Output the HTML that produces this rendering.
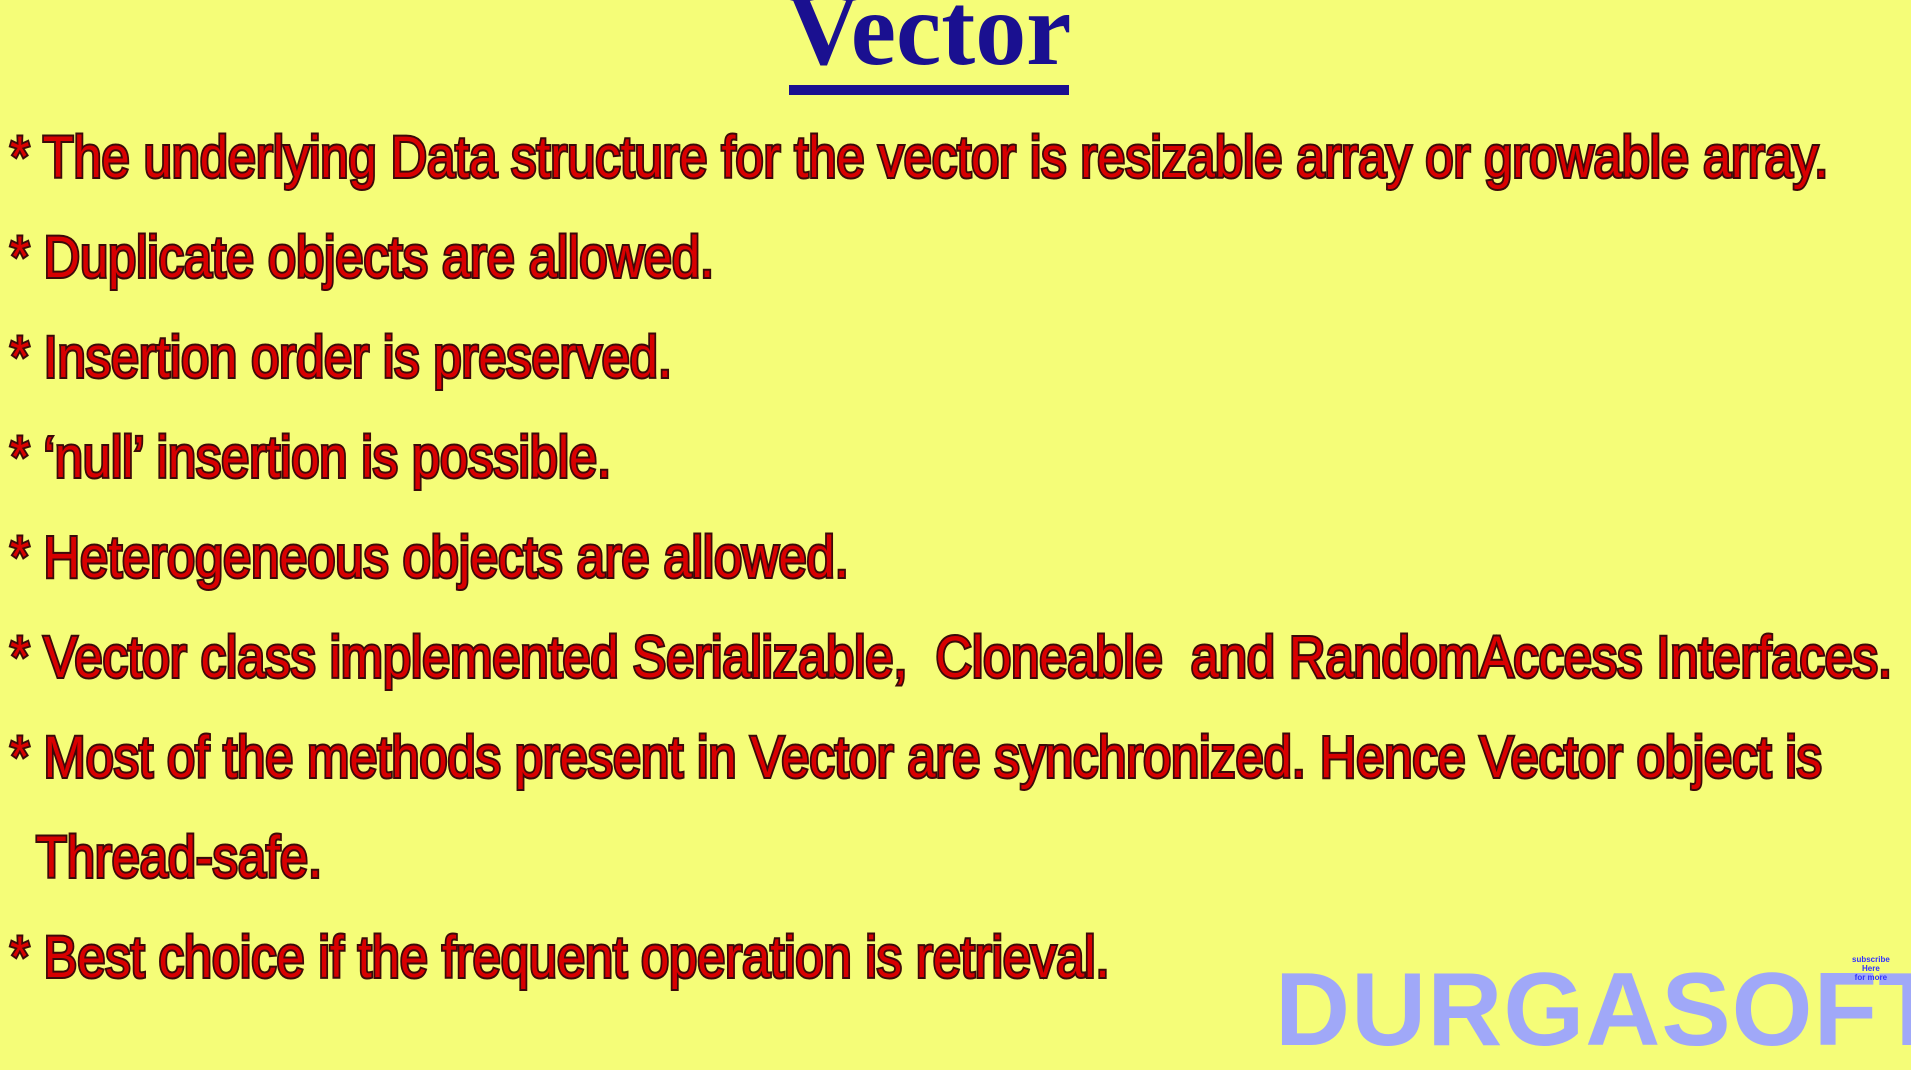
<!DOCTYPE html>
<html><head><meta charset="utf-8"><style>
html,body{margin:0;padding:0}
body{width:1911px;height:1012px;background:#f5fd78;position:relative;overflow:hidden;font-family:"Liberation Sans",sans-serif}
.t{position:absolute;left:779px;top:-22px;width:300px;text-align:center;font-family:"Liberation Serif",serif;font-weight:bold;font-size:104px;color:#1a1090;transform:scaleX(0.98);transform-origin:center;line-height:104px}
.ul{position:absolute;left:789px;top:85px;width:280px;height:10px;background:#1a1090}
.l{position:absolute;left:10px;white-space:nowrap;font-size:58px;line-height:60px;color:#d80000;-webkit-text-stroke:4px #3a0a0a;paint-order:stroke fill;transform:scaleX(0.87);transform-origin:left}
.d{position:absolute;left:1275px;top:950px;font-size:104px;font-weight:bold;color:#a0a8f8;line-height:120px;letter-spacing:1px}
.s{position:absolute;left:1852px;top:955px;font-size:8px;color:#3030ff;text-align:center;line-height:9px;font-weight:bold}
</style></head><body>
<div class="t">Vector</div>
<div class="ul"></div>
<div class="l" style="top:128px">* The underlying Data structure for the vector is resizable array or growable array.</div>
<div class="l" style="top:228px">* Duplicate objects are allowed.</div>
<div class="l" style="top:328px">* Insertion order is preserved.</div>
<div class="l" style="top:428px">* ‘null’ insertion is possible.</div>
<div class="l" style="top:528px">* Heterogeneous objects are allowed.</div>
<div class="l" style="top:628px">* Vector class implemented Serializable,&nbsp; Cloneable&nbsp; and RandomAccess Interfaces.</div>
<div class="l" style="top:728px">* Most of the methods present in Vector are synchronized. Hence Vector object is</div>
<div class="l" style="top:828px;left:36px">Thread-safe.</div>
<div class="l" style="top:928px">* Best choice if the frequent operation is retrieval.</div>
<div class="d">DURGASOFT</div>
<div class="s">subscribe<br>Here<br>for more</div>
</body></html>
